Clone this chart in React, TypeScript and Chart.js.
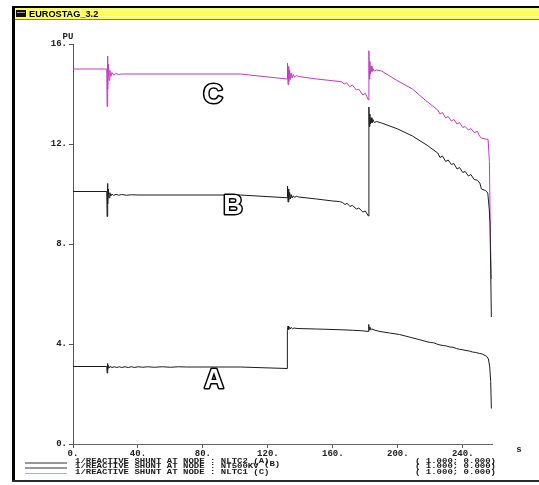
import React, { useEffect, useRef } from "react";
import { Chart, registerables } from "chart.js";

Chart.register(...registerables);

// Axis ticks
const timeTicks = [0, 40, 80, 120, 160, 200, 240];
const puTicks = [0, 4, 8, 12, 16];

// Reactive shunt output (PU) versus time (s): [t, value]
const curveA: [number, number][] = [
  [0, 3.1], [20.8, 3.1], [21.0, 2.84], [21.2, 3.22], [21.5, 2.98], [21.8, 3.14], [22.2, 3.04],
  [22.8, 3.1], [24, 3.06], [25.5, 3.09], [27, 3.06], [28.5, 3.09], [30, 3.06], [32, 3.09],
  [34, 3.06], [36, 3.09], [38, 3.06], [40, 3.09], [43, 3.07], [46, 3.09], [50, 3.07], [55, 3.09],
  [60, 3.07], [65, 3.09], [70, 3.08], [80, 3.08], [103, 3.08], [131.8, 3.02],
  [132.0, 4.55], [132.4, 4.72], [132.8, 4.58], [133.3, 4.68], [133.8, 4.6], [134.4, 4.66],
  [135.2, 4.61], [136.2, 4.64], [138, 4.62], [150, 4.6], [165, 4.57], [172, 4.55], [178, 4.53],
  [181.9, 4.5], [182.1, 4.78], [182.4, 4.56], [182.8, 4.68], [183.3, 4.57], [184, 4.6],
  [186, 4.55], [189, 4.5], [195, 4.44], [201, 4.38], [207, 4.28], [213.5, 4.17], [218, 4.09],
  [220, 4.06], [222, 4.05], [224, 4.0], [226, 3.96], [228, 3.94], [230, 3.92], [232, 3.88],
  [234, 3.87], [236, 3.82], [238, 3.79], [240, 3.77], [242, 3.74], [244, 3.72], [246, 3.68],
  [248, 3.66], [250.5, 3.62], [252, 3.6], [254.8, 3.5], [255.8, 3.4], [256.6, 3.08],
  [257.2, 2.5], [257.6, 1.42],
];

const curveB: [number, number][] = [
  [0, 10.1], [20.8, 10.1], [21.0, 9.1], [21.2, 10.42], [21.5, 9.6], [21.8, 10.2], [22.2, 9.85],
  [22.7, 10.05], [23.3, 9.92], [24, 10.0], [25, 9.94], [26.5, 9.99], [28, 9.95], [30, 9.98],
  [33, 9.95], [36, 9.97], [40, 9.96], [103, 9.96], [131.8, 9.85],
  [132.1, 10.32], [132.4, 9.68], [132.7, 10.2], [133.0, 9.75], [133.4, 10.06], [133.8, 9.8],
  [134.3, 9.98], [134.9, 9.84], [135.6, 9.93], [136.5, 9.86], [137.5, 9.91], [139, 9.88],
  [150, 9.8], [160, 9.72], [164, 9.7], [166, 9.66], [167.5, 9.58], [168.8, 9.63], [170.5, 9.5],
  [172, 9.55], [174.5, 9.4], [176, 9.44], [178.5, 9.28], [180, 9.32], [181.9, 9.12],
  [182.2, 13.48], [182.5, 12.7], [182.8, 13.2], [183.2, 12.8], [183.6, 13.05], [184.1, 12.85],
  [184.7, 12.98], [185.5, 12.86], [187, 12.9], [190, 12.84], [200, 12.6], [209, 12.32],
  [218, 11.95], [224.6, 11.64], [226, 11.46], [227.5, 11.52], [229.5, 11.3], [231, 11.36],
  [233, 11.18], [234.5, 11.22], [236.5, 11.0], [238, 11.06], [240, 10.86], [241.5, 10.9],
  [243.5, 10.72], [245, 10.78], [247, 10.58], [249, 10.55], [250.5, 10.44], [251.5, 10.2],
  [254, 10.14], [255.4, 10.04], [256.3, 9.4], [256.8, 8.8], [257.6, 5.08],
];

const curveC: [number, number][] = [
  [0, 15.0], [20.8, 15.0], [21.0, 13.5], [21.2, 15.52], [21.5, 14.2], [21.8, 15.2], [22.2, 14.55],
  [22.7, 14.95], [23.3, 14.7], [24, 14.86], [25, 14.76], [26.5, 14.82], [28, 14.78], [30, 14.8],
  [103, 14.8], [131.8, 14.6],
  [132.1, 15.24], [132.4, 14.38], [132.7, 15.1], [133.0, 14.5], [133.4, 14.95], [133.8, 14.58],
  [134.3, 14.84], [134.9, 14.64], [135.6, 14.78], [136.5, 14.68], [137.5, 14.74], [139, 14.7],
  [150, 14.6], [160, 14.53], [165.3, 14.49], [167, 14.4], [168.4, 14.45], [170.5, 14.29],
  [172, 14.36], [174.5, 14.16], [176, 14.19], [178.5, 13.96], [180, 14.03], [181.9, 13.76],
  [182.2, 15.73], [182.5, 14.6], [182.8, 15.3], [183.2, 14.8], [183.6, 15.12], [184.1, 14.9],
  [184.7, 15.02], [185.5, 14.92], [187, 14.96], [190, 14.92], [199, 14.56], [209, 14.2],
  [217, 13.75], [224.6, 13.36], [226, 13.2], [227.5, 13.26], [229.5, 13.04], [231, 13.1],
  [233, 12.92], [234.5, 12.98], [236.5, 12.8], [238, 12.86], [240, 12.66], [241.5, 12.7],
  [243.5, 12.56], [245, 12.62], [247, 12.46], [249, 12.5], [250.5, 12.3], [251.5, 12.24],
  [254, 12.2], [255.6, 12.18], [256.4, 11.3], [257.0, 8.2], [257.6, 6.6],
];

const curves = [curveA, curveB, curveC];
const curveColors = ["#1c1c1c", "#1c1c1c", "#c03cc0"];
const legendColors = ["#333333", "#333333", "#d79ad3"];
const curveTags = ["A", "B", "C"];
// where each curve's tag letter sits, in data units [t, PU]
const tagAnchors: [number, number][] = [[86.8, 2.52], [98.5, 9.48], [86.2, 13.95]];

const legendNames = [
  "1/REACTIVE SHUNT AT NODE : NLTC2 (A)",
  "1/REACTIVE SHUNT AT NODE : NT500KV",
  "1/REACTIVE SHUNT AT NODE : NLTC1 (C)",
];
const legendRaisedTag = "(B)";
const legendScales = ["( 1.000; 0.000)", "( 1.000; 0.000)", "( 1.000; 0.000)"];

const windowTitle = "EUROSTAG_3.2";
const yUnit = "PU";
const xUnit = "s";

const MONO = "'Liberation Mono', 'DejaVu Sans Mono', monospace";

const framePlugin = {
  id: "eurostagFrame",
  beforeDraw(chart: any) {
    const { ctx, width, height } = chart;
    ctx.save();
    ctx.fillStyle = "#ffffff";
    ctx.fillRect(0, 0, width, height);
    ctx.restore();
  },
  afterDraw(chart: any) {
    const { ctx, width } = chart;
    const xs = chart.scales.x;
    const ys = chart.scales.y;
    ctx.save();

    // window title bar
    ctx.fillStyle = "#000000";
    ctx.fillRect(12, 6, width - 12, 2);
    ctx.fillStyle = "#ffff4c";
    ctx.fillRect(12, 8, width - 12, 11);
    ctx.fillStyle = "#ffffa6";
    for (const yy of [10, 13, 16]) ctx.fillRect(15, yy, width - 15, 1);
    ctx.fillStyle = "#7a7a6a";
    ctx.fillRect(12, 19, width - 12, 1);
    // title icon
    ctx.fillStyle = "#111111";
    ctx.fillRect(16, 10, 10, 7);
    ctx.fillStyle = "#9a9a9a";
    ctx.fillRect(17, 12, 8, 1);
    ctx.fillStyle = "#000000";
    ctx.font = "bold 9.2px 'Liberation Sans', Arial, sans-serif";
    ctx.textAlign = "left";
    ctx.textBaseline = "middle";
    ctx.fillText(windowTitle, 29, 14);

    // window edges
    ctx.fillStyle = "#000000";
    ctx.fillRect(12, 6, 3, 476);
    ctx.fillStyle = "#2a2a2a";
    ctx.fillRect(12, 480, width - 12, 2);

    // axis units
    ctx.fillStyle = "#222222";
    ctx.font = `bold 9px ${MONO}`;
    ctx.textAlign = "center";
    ctx.textBaseline = "middle";
    ctx.fillText(yUnit, xs.left - 5, ys.top - 7);
    ctx.fillText(xUnit, 519, xs.top + 6);

    // tag letters on the curves
    ctx.font = "bold 27px 'Liberation Sans', Arial, sans-serif";
    ctx.lineJoin = "round";
    ctx.lineWidth = 3;
    ctx.strokeStyle = "#000000";
    ctx.fillStyle = "#ffffff";
    curveTags.forEach((tag, i) => {
      const px = xs.getPixelForValue(tagAnchors[i][0]);
      const py = ys.getPixelForValue(tagAnchors[i][1]);
      ctx.strokeText(tag, px, py);
      ctx.fillText(tag, px, py);
    });

    // legend rows
    const rowY = [461, 466.5, 472];
    const lineY = [462.5, 467.5, 473];
    ctx.font = `bold 9px ${MONO}`;
    ctx.textBaseline = "middle";
    legendNames.forEach((name, i) => {
      ctx.strokeStyle = legendColors[i];
      ctx.lineWidth = 1;
      ctx.beginPath();
      ctx.moveTo(25, lineY[i] + 0.5);
      ctx.lineTo(67, lineY[i] + 0.5);
      ctx.stroke();

      ctx.fillStyle = "#1a1a1a";
      ctx.textAlign = "left";
      ctx.save();
      ctx.translate(75, rowY[i]);
      ctx.scale(1, 0.78);
      ctx.fillText(name, 0, 0);
      ctx.restore();

      ctx.save();
      ctx.translate(415, rowY[i]);
      ctx.scale(1, 0.78);
      ctx.fillText(legendScales[i], 0, 0);
      ctx.restore();
    });
    const nameWidth = ctx.measureText(legendNames[1] + " ").width;
    ctx.save();
    ctx.translate(75 + nameWidth, rowY[1] - 2.5);
    ctx.scale(1, 0.78);
    ctx.fillText(legendRaisedTag, 0, 0);
    ctx.restore();

    ctx.restore();
  },
};

export default function App() {
  const canvasRef = useRef<HTMLCanvasElement | null>(null);

  useEffect(() => {
    const canvas = canvasRef.current;
    if (!canvas) return;
    const chart = new Chart(canvas, {
      type: "line",
      data: {
        datasets: curves.map((curve, i) => ({
          label: curveTags[i],
          data: curve.map(([t, v]) => ({ x: t, y: v })),
          borderColor: curveColors[i],
          borderWidth: 1,
          pointRadius: 0,
          tension: 0,
          fill: false,
        })),
      },
      options: {
        responsive: false,
        animation: false,
        devicePixelRatio: 1,
        layout: { padding: { left: 43, right: 47, top: 44, bottom: 21 } },
        plugins: { legend: { display: false }, tooltip: { enabled: false } },
        scales: {
          x: {
            type: "linear",
            min: 0,
            max: 258,
            afterBuildTicks: (scale: any) => {
              scale.ticks = timeTicks.map((v) => ({ value: v }));
            },
            afterFit: (scale: any) => {
              scale.height = 20;
              scale.paddingLeft = 0;
              scale.paddingRight = 0;
            },
            grid: {
              display: true,
              drawOnChartArea: false,
              drawTicks: true,
              tickLength: 4,
              color: "#555555",
            },
            border: { display: true, color: "#666666", width: 1 },
            ticks: {
              autoSkip: false,
              maxRotation: 0,
              padding: 0,
              color: "#222222",
              font: { family: MONO, size: 9, weight: "bold" },
              callback: (v: any) => `${v}.`,
            },
          },
          y: {
            type: "linear",
            min: 0,
            max: 16,
            afterBuildTicks: (scale: any) => {
              scale.ticks = puTicks.map((v) => ({ value: v }));
            },
            afterFit: (scale: any) => {
              scale.width = 30;
              scale.paddingTop = 0;
              scale.paddingBottom = 0;
            },
            grid: {
              display: true,
              drawOnChartArea: false,
              drawTicks: true,
              tickLength: 4,
              color: "#555555",
            },
            border: { display: true, color: "#555555", width: 1 },
            ticks: {
              padding: 2,
              color: "#222222",
              font: { family: MONO, size: 9, weight: "bold" },
              callback: (v: any) => `${v}.`,
            },
          },
        },
      } as any,
      plugins: [framePlugin],
    });
    return () => chart.destroy();
  }, []);

  return (
    <div style={{ position: "absolute", left: 0, top: 0, width: 539, height: 485, background: "#fff" }}>
      <canvas ref={canvasRef} width={539} height={485} style={{ display: "block", width: 539, height: 485 }} />
    </div>
  );
}
